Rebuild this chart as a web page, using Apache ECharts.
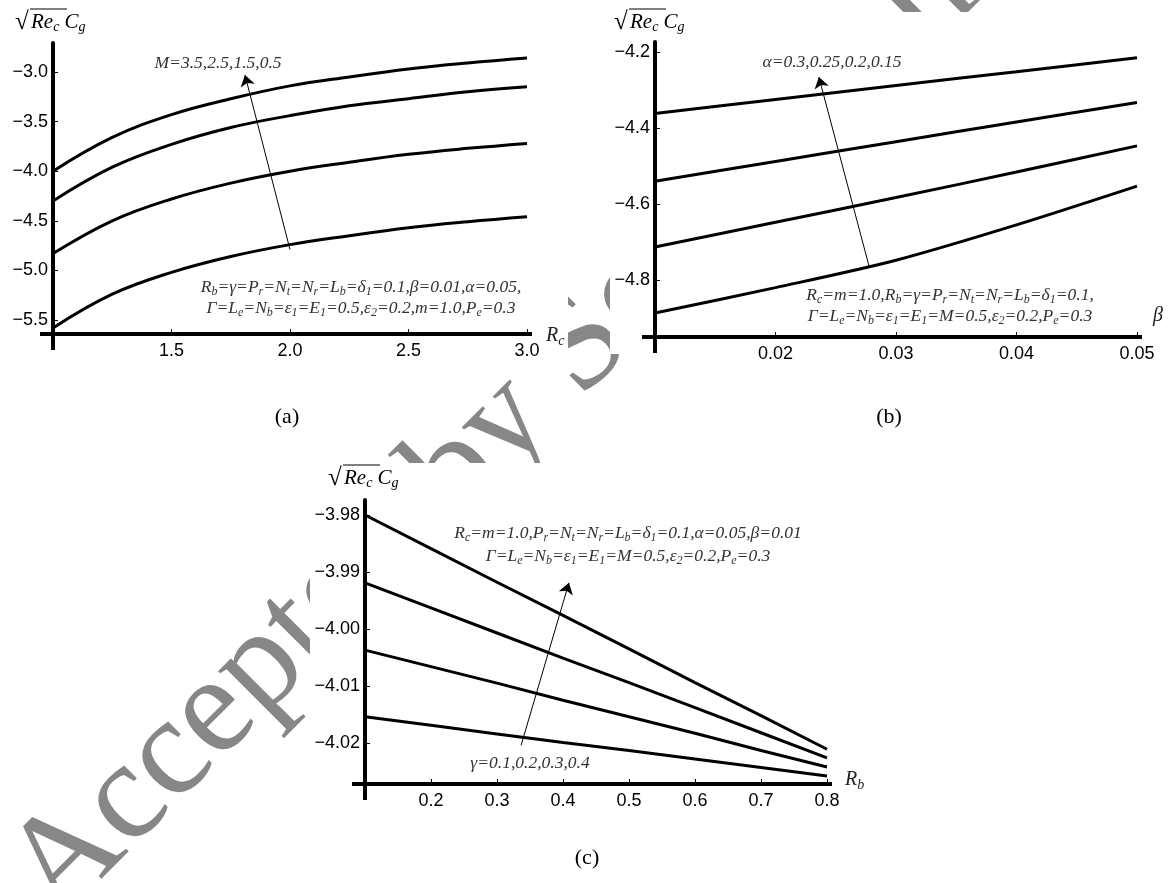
<!DOCTYPE html>
<html>
<head>
<meta charset="utf-8">
<script src="https://cdn.jsdelivr.net/npm/echarts@6/dist/echarts.min.js"></script>
<style>
  html, body { margin: 0; padding: 0; background: #fff; }
  #chart { width: 1175px; height: 883px; }
</style>
</head>
<body>
<div id="chart"></div>
<script>
// ---- (a) skin friction against R_c for four values of M ----
const rcValues = [1.0, 1.25, 1.5, 1.75, 2.0, 2.25, 2.5, 2.75, 3.0];
const cgM05 = [-4.00, -3.66, -3.43, -3.27, -3.14, -3.05, -2.97, -2.91, -2.86];
const cgM15 = [-4.30, -3.96, -3.73, -3.56, -3.44, -3.34, -3.27, -3.20, -3.15];
const cgM25 = [-4.83, -4.50, -4.28, -4.12, -4.00, -3.91, -3.83, -3.77, -3.72];
const cgM35 = [-5.58, -5.24, -5.02, -4.86, -4.74, -4.65, -4.57, -4.51, -4.46];
const rcTicks = [1.5, 2.0, 2.5, 3.0];
const cgTicksA = [-5.5, -5.0, -4.5, -4.0, -3.5, -3.0];
const arrowA = [[2.0, -4.79], [1.81, -3.03]];

// ---- (b) skin friction against beta for four values of alpha ----
const betaValues = [0.01, 0.02, 0.03, 0.04, 0.05];
const cgAlpha030 = [-4.887, -4.820, -4.748, -4.655, -4.553];
const cgAlpha025 = [-4.713, -4.648, -4.583, -4.516, -4.447];
const cgAlpha020 = [-4.540, -4.488, -4.436, -4.384, -4.333];
const cgAlpha015 = [-4.362, -4.325, -4.288, -4.252, -4.215];
const betaTicks = [0.02, 0.03, 0.04, 0.05];
const cgTicksB = [-4.8, -4.6, -4.4, -4.2];
const arrowB = [[0.0278, -4.768], [0.0236, -4.266]];

// ---- (c) skin friction against R_b for four values of gamma ----
const rbValues = [0.1, 0.2, 0.3, 0.4, 0.5, 0.6, 0.7, 0.8];
const cgGamma04 = [-3.9800, -3.9859, -3.9918, -3.9976, -4.0035, -4.0094, -4.0152, -4.0211];
const cgGamma03 = [-3.9919, -3.9963, -4.0007, -4.0051, -4.0094, -4.0138, -4.0182, -4.0226];
const cgGamma02 = [-4.0037, -4.0066, -4.0095, -4.0125, -4.0154, -4.0183, -4.0213, -4.0242];
const cgGamma01 = [-4.0154, -4.0169, -4.0184, -4.0199, -4.0213, -4.0228, -4.0243, -4.0258];
const rbTicks = [0.2, 0.3, 0.4, 0.5, 0.6, 0.7, 0.8];
const cgTicksC = [-4.02, -4.01, -4.00, -3.99, -3.98];
const arrowC = [[0.3365, -4.0204], [0.409, -3.9919]];

// ---- texts ----
const labelA = 'M=3.5,2.5,1.5,0.5';
const labelB = 'α=0.3,0.25,0.2,0.15';
const labelC = 'γ=0.1,0.2,0.3,0.4';
const noteA = ['R_b=γ=P_r=N_t=N_r=L_b=δ_1=0.1,β=0.01,α=0.05,', 'Γ=L_e=N_b=ε_1=E_1=0.5,ε_2=0.2,m=1.0,P_e=0.3'];
const noteB = ['R_c=m=1.0,R_b=γ=P_r=N_t=N_r=L_b=δ_1=0.1,', 'Γ=L_e=N_b=ε_1=E_1=M=0.5,ε_2=0.2,P_e=0.3'];
const noteC = ['R_c=m=1.0,P_r=N_t=N_r=L_b=δ_1=0.1,α=0.05,β=0.01', 'Γ=L_e=N_b=ε_1=E_1=M=0.5,ε_2=0.2,P_e=0.3'];
const stamp = 'Accepted by Scientia Iranica';

// ---- layout ----
const boxA = { left: 53, top: 43, width: 474, height: 291, ymin: -5.641, ymax: -2.708, xmin: 1, xmax: 3 };
const boxB = { left: 655, top: 42, width: 482, height: 295, ymin: -4.95, ymax: -4.1737, xmin: 0.01, xmax: 0.05 };
const boxC = { left: 365, top: 500, width: 462, height: 284, ymin: -4.02719, ymax: -3.97737, xmin: 0.1, xmax: 0.8 };

const SANS = '"Liberation Sans", Arial, sans-serif';
const SERIF = '"Liberation Serif", "Times New Roman", serif';
const NOTE_SIZE = 17.5;

function fmt(dec) {
  return v => (v < 0 ? '\u2212' : '') + Math.abs(v).toFixed(dec);
}

function xAxisOf(g, box, ticks, dec) {
  return {
    type: 'value', gridIndex: g, min: box.xmin, max: box.xmax, position: 'bottom', z: 5,
    axisLine: { show: true, onZero: false, lineStyle: { color: '#000', width: 4 } },
    axisTick: { show: true, inside: true, length: 5, customValues: ticks, lineStyle: { color: '#000', width: 1 } },
    axisLabel: { show: true, customValues: ticks, formatter: fmt(dec), fontFamily: SANS, fontSize: 18, color: '#000', margin: 8 },
    splitLine: { show: false }
  };
}
function yAxisOf(g, box, ticks, dec) {
  return {
    type: 'value', gridIndex: g, min: box.ymin, max: box.ymax, position: 'left', z: 5,
    axisLine: { show: true, onZero: false, lineStyle: { color: '#000', width: 4 } },
    axisTick: { show: true, inside: true, length: 5, customValues: ticks, lineStyle: { color: '#000', width: 1 } },
    axisLabel: { show: true, customValues: ticks, formatter: fmt(dec), fontFamily: SANS, fontSize: 18, color: '#000', margin: 5 },
    splitLine: { show: false }
  };
}
function gridOf(box) {
  return { left: box.left, top: box.top, width: box.width, height: box.height, containLabel: false, outerBoundsMode: 'none', show: false };
}
function curve(xs, ys, g, name, smooth) {
  return {
    type: 'line', name, xAxisIndex: g, yAxisIndex: g, z: 5, silent: true, animation: false,
    data: xs.map((x, i) => [x, ys[i]]), showSymbol: false, smooth: smooth,
    lineStyle: { color: '#000', width: 3 }
  };
}
function arrow(coords, g) {
  return {
    type: 'lines', coordinateSystem: 'cartesian2d', xAxisIndex: g, yAxisIndex: g, z: 6, silent: true, animation: false,
    symbol: ['none', 'arrow'], symbolSize: 11,
    lineStyle: { color: '#000', width: 1, opacity: 1, curveness: 0 },
    data: [{ coords: coords }]
  };
}

// turn "R_b=γ" into rich-text tokens with subscripts
function richify(s) {
  return s.split(/_(.)/).map((p, i) => p === '' ? '' : (i % 2 ? '{s|' + p + '}' : '{t|' + p + '}')).join('');
}
function richStyles(size, color) {
  return {
    t: { fontFamily: SERIF, fontStyle: 'italic', fontSize: size, fill: color, lineHeight: size + 4 },
    s: { fontFamily: SERIF, fontStyle: 'italic', fontSize: Math.round(size * 0.68), fill: color, padding: [Math.round(size * 0.5), 0, 0, 0] }
  };
}
function richText(x, y, str, size, color, align) {
  return {
    type: 'text', x, y, z: 10, silent: true,
    style: {
      text: richify(str), rich: richStyles(size, color),
      align: align || 'center', verticalAlign: 'middle'
    }
  };
}
function cgTitle(x, y) {
  return [
    { type: 'text', x, y, z: 10, silent: true,
      style: { text: '\u221A', fontFamily: SERIF, fontSize: 25, fill: '#000', align: 'left', verticalAlign: 'middle' } },
    richText(x + 16, y, 'Re_c C_g', 21, '#000', 'left'),
    { type: 'line', z: 10, silent: true,
      shape: { x1: x + 15, y1: y - 13, x2: x + 52, y2: y - 13 },
      style: { stroke: '#000', lineWidth: 1 } }
  ];
}
// axis overshoot in the crossing corner and past the last tick
function axisStubs(box) {
  const bx = box.left, by = box.top + box.height, r = box.left + box.width;
  return [
    { type: 'rect', z: 5, silent: true, shape: { x: bx - 13, y: by - 2, width: 13, height: 4 }, style: { fill: '#000' } },
    { type: 'rect', z: 5, silent: true, shape: { x: r, y: by - 2, width: 5, height: 4 }, style: { fill: '#000' } },
    { type: 'rect', z: 5, silent: true, shape: { x: bx - 2, y: by, width: 4, height: 16 }, style: { fill: '#000' } }
  ];
}
function caption(x, y, str) {
  return { type: 'text', x, y, z: 10, silent: true,
    style: { text: str, fontFamily: SERIF, fontSize: 22, fill: '#000', align: 'center', verticalAlign: 'middle' } };
}

const graphics = [
  // grey stamp running diagonally under the panels
  { type: 'text', x: 32, y: 896, rotation: Math.PI / 4, z: -2, silent: true,
    style: { text: stamp, fontFamily: SERIF, fontSize: 140, fill: '#878787', align: 'left', verticalAlign: 'middle' } },
  // opaque panel backgrounds
  { type: 'rect', z: -1, silent: true, shape: { x: 0, y: 0, width: 568, height: 352 }, style: { fill: '#fff' } },
  { type: 'rect', z: -1, silent: true, shape: { x: 610, y: 12, width: 565, height: 342 }, style: { fill: '#fff' } },
  { type: 'rect', z: -1, silent: true, shape: { x: 310, y: 463, width: 552, height: 345 }, style: { fill: '#fff' } },
  ...axisStubs(boxA), ...axisStubs(boxB), ...axisStubs(boxC),
  ...cgTitle(15, 22), ...cgTitle(614, 22), ...cgTitle(328, 478),
  richText(218, 63, labelA, NOTE_SIZE, '#333'),
  richText(832, 62, labelB, NOTE_SIZE, '#333'),
  richText(530, 763, labelC, NOTE_SIZE, '#333'),
  richText(361, 287, noteA[0], NOTE_SIZE, '#333'),
  richText(361, 308, noteA[1], NOTE_SIZE, '#333'),
  richText(950, 295, noteB[0], NOTE_SIZE, '#333'),
  richText(950, 316, noteB[1], NOTE_SIZE, '#333'),
  richText(628, 533, noteC[0], NOTE_SIZE, '#333'),
  richText(628, 556, noteC[1], NOTE_SIZE, '#333'),
  richText(546, 336, 'R_c', 20, '#222', 'left'),
  richText(1153, 316, 'β', 20, '#222', 'left'),
  richText(845, 780, 'R_b', 20, '#222', 'left'),
  caption(287, 417, '(a)'),
  caption(889, 417, '(b)'),
  caption(587, 858, '(c)')
];

const option = {
  backgroundColor: '#fff',
  animation: false,
  grid: [gridOf(boxA), gridOf(boxB), gridOf(boxC)],
  xAxis: [xAxisOf(0, boxA, rcTicks, 1), xAxisOf(1, boxB, betaTicks, 2), xAxisOf(2, boxC, rbTicks, 1)],
  yAxis: [yAxisOf(0, boxA, cgTicksA, 1), yAxisOf(1, boxB, cgTicksB, 1), yAxisOf(2, boxC, cgTicksC, 2)],
  series: [
    curve(rcValues, cgM35, 0, 'M=3.5', 0.4),
    curve(rcValues, cgM25, 0, 'M=2.5', 0.4),
    curve(rcValues, cgM15, 0, 'M=1.5', 0.4),
    curve(rcValues, cgM05, 0, 'M=0.5', 0.4),
    arrow(arrowA, 0),
    curve(betaValues, cgAlpha030, 1, 'α=0.3', 0.3),
    curve(betaValues, cgAlpha025, 1, 'α=0.25', 0.3),
    curve(betaValues, cgAlpha020, 1, 'α=0.2', 0.3),
    curve(betaValues, cgAlpha015, 1, 'α=0.15', 0.3),
    arrow(arrowB, 1),
    curve(rbValues, cgGamma01, 2, 'γ=0.1', false),
    curve(rbValues, cgGamma02, 2, 'γ=0.2', false),
    curve(rbValues, cgGamma03, 2, 'γ=0.3', false),
    curve(rbValues, cgGamma04, 2, 'γ=0.4', false),
    arrow(arrowC, 2)
  ],
  graphic: { elements: graphics }
};

const chart = echarts.init(document.getElementById('chart'));
chart.setOption(option);
</script>
</body>
</html>
